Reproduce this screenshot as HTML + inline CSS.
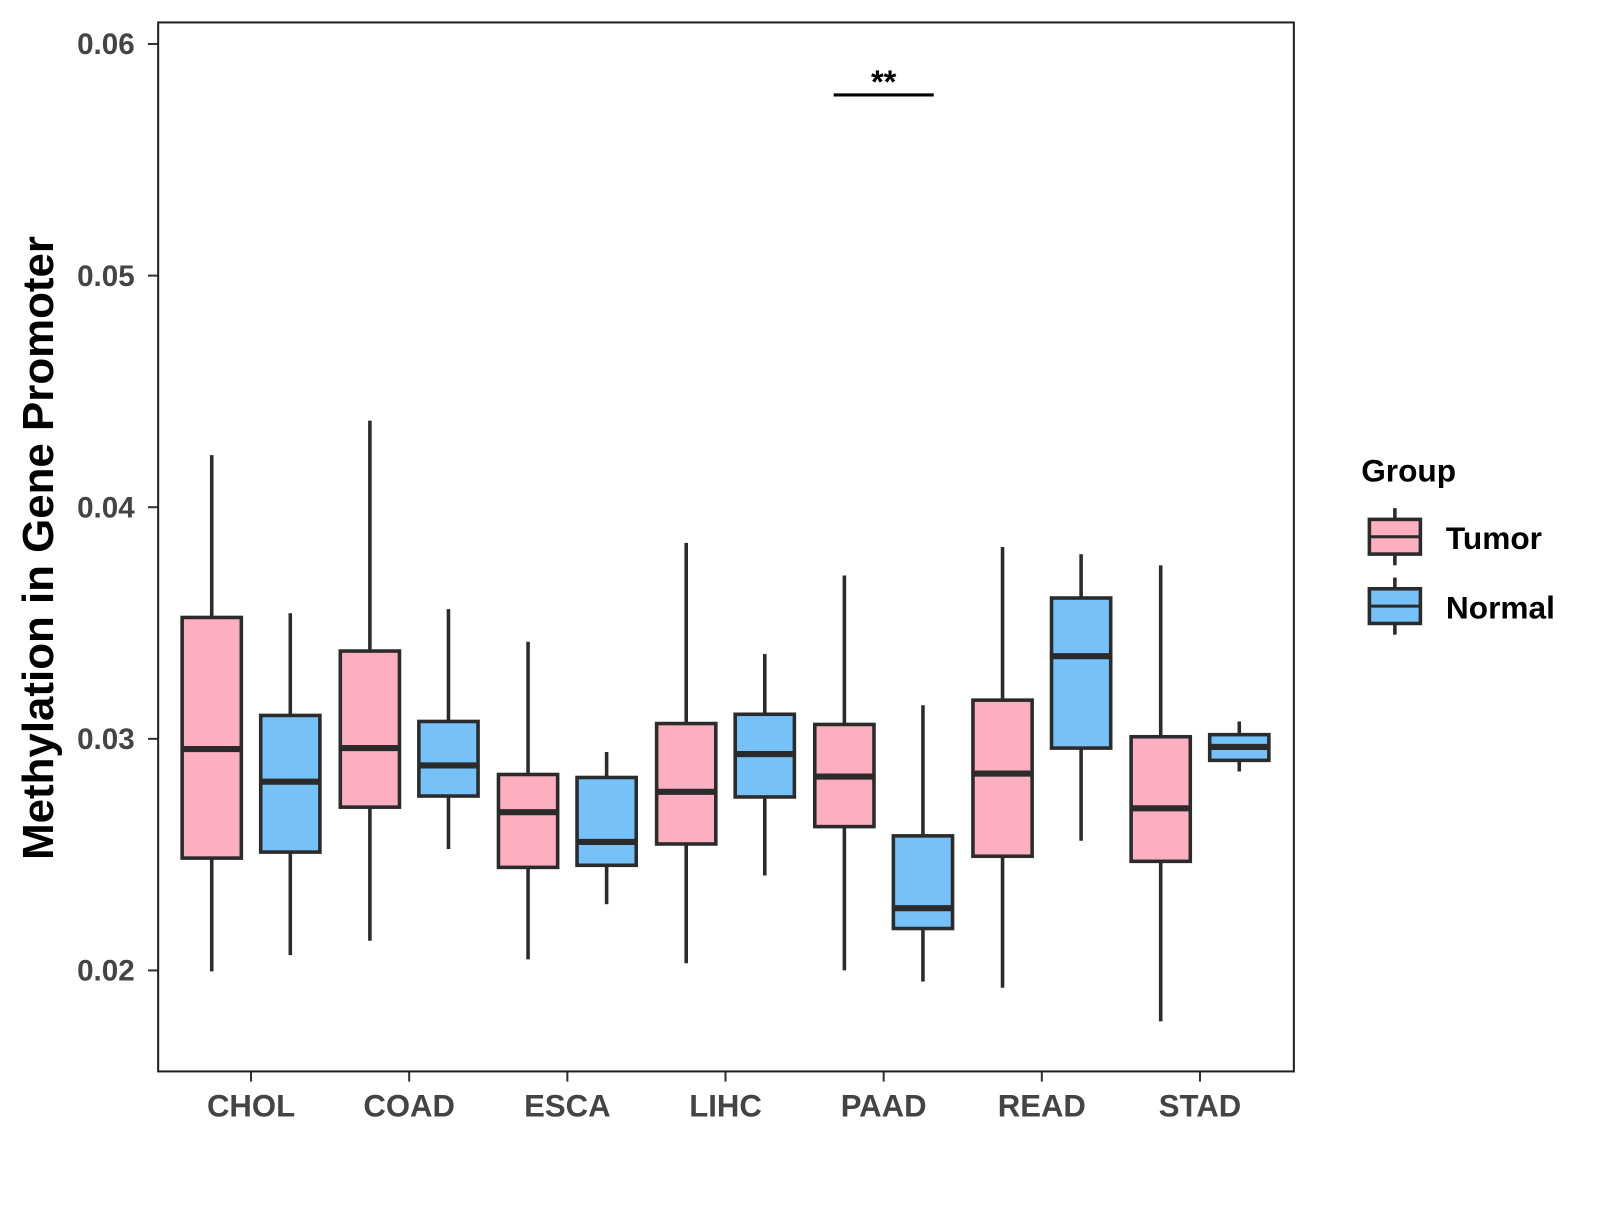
<!DOCTYPE html>
<html><head><meta charset="utf-8"><style>
body{margin:0;background:#fff;overflow:hidden;width:1600px;height:1200px;}
#wrap{position:absolute;left:0;top:0;width:1600px;height:1200px;transform:scale(1.0204);transform-origin:0 0;}
svg text{font-family:"Liberation Sans",Arial,sans-serif;font-weight:bold;}
</style></head><body>
<div id="wrap">
<svg id="chart" width="1600" height="1200" xmlns="http://www.w3.org/2000/svg" style="position:absolute;left:0;top:0">
<rect width="1600" height="1200" fill="#fff"/>
<g id="plot"></g>
</svg>
<svg style="position:absolute;left:0;top:0" width="1600" height="1200">
<text transform="translate(52,537) rotate(-90)" text-anchor="middle" font-size="43" fill="#000">Methylation in Gene Promoter</text>
<g>
<text x="1334" y="472" font-size="31" fill="#000">Group</text>
<g>
<line x1="1367" x2="1367" y1="498" y2="554" stroke="#2b2b2b" stroke-width="3.5"/>
<rect x="1342" y="509" width="50" height="34" fill="#FCAFC0" stroke="#2b2b2b" stroke-width="3.5"/>
<line x1="1342" x2="1392" y1="526" y2="526" stroke="#2b2b2b" stroke-width="3"/>
<text x="1417" y="538" font-size="31" fill="#000">Tumor</text>
</g>
<g>
<line x1="1367" x2="1367" y1="566" y2="622" stroke="#2b2b2b" stroke-width="3.5"/>
<rect x="1342" y="577" width="50" height="34" fill="#75C1F8" stroke="#2b2b2b" stroke-width="3.5"/>
<line x1="1342" x2="1392" y1="594" y2="594" stroke="#2b2b2b" stroke-width="3"/>
<text x="1417" y="606" font-size="31" fill="#000">Normal</text>
</g>
</g>
</svg>
</div>
<script>
const categories=["CHOL","COAD","ESCA","LIHC","PAAD","READ","STAD"];
// [whiskerLow, q1, median, q3, whiskerHigh]
const tumorStats=[
[0.01996,0.02485,0.02956,0.03524,0.04225],
[0.02128,0.02705,0.0296,0.03379,0.04374],
[0.02048,0.02445,0.02683,0.02846,0.03419],
[0.02031,0.02546,0.02771,0.03066,0.03846],
[0.0200,0.02621,0.02837,0.03062,0.03705],
[0.01925,0.02493,0.0285,0.03167,0.03828],
[0.0178,0.02471,0.027,0.03009,0.03749]];
const normalStats=[
[0.02066,0.02511,0.02815,0.03101,0.03542],
[0.02524,0.02753,0.02885,0.03075,0.0356],
[0.02286,0.02454,0.02555,0.02833,0.02943],
[0.0241,0.02749,0.02934,0.03106,0.03366],
[0.01952,0.02181,0.02269,0.02581,0.03145],
[0.0256,0.0296,0.03357,0.03608,0.03797],
[0.02859,0.02907,0.02965,0.03018,0.03075]];
const yTicks=[0.02,0.03,0.04,0.05,0.06];
const yTickLabels=["0.02","0.03","0.04","0.05","0.06"];
const sigCategoryIndex=4; const sigLabel="**"; const sigValue=0.0578;

const L=155,R=1268,T=22,B=1050;
const yMin=0.01564,yMax=0.06093;
const y=v=>B-(v-yMin)/(yMax-yMin)*(B-T);
const x=i=>246+i*155;
const NS="http://www.w3.org/2000/svg";
const g=document.getElementById('plot');
function el(tag,attrs,parent){const e=document.createElementNS(NS,tag);for(const k in attrs)e.setAttribute(k,attrs[k]);(parent||g).appendChild(e);return e;}

yTicks.forEach((t,i)=>{
 el('line',{x1:L-10,x2:L,y1:y(t),y2:y(t),stroke:'#333','stroke-width':2});
 const tx=el('text',{x:L-23,y:y(t)+10,'text-anchor':'end','font-size':29,fill:'#444'});
 tx.textContent=yTickLabels[i];
 
 
});
categories.forEach((c,i)=>{
 el('line',{x1:x(i),x2:x(i),y1:B,y2:B+10,stroke:'#333','stroke-width':2});
 const tx=el('text',{x:x(i),y:1094,'text-anchor':'middle','font-size':30.5,fill:'#444'});
 tx.textContent=c;
 
 
});

function box(cx,s,fill,name){
 const grp=el('g',{});
 
 
 const w=58;
 el('line',{x1:cx,x2:cx,y1:y(s[0]),y2:y(s[1]),stroke:'#2b2b2b','stroke-width':3.5},grp);
 el('line',{x1:cx,x2:cx,y1:y(s[3]),y2:y(s[4]),stroke:'#2b2b2b','stroke-width':3.5},grp);
 el('rect',{x:cx-w/2,y:y(s[3]),width:w,height:y(s[1])-y(s[3]),fill:fill,stroke:'#2b2b2b','stroke-width':3.5},grp);
 el('line',{x1:cx-w/2,x2:cx+w/2,y1:y(s[2]),y2:y(s[2]),stroke:'#2b2b2b','stroke-width':6},grp);
}
categories.forEach((c,i)=>{
 box(x(i)-38.5,tumorStats[i],'#FCAFC0','box-tumor-'+c.toLowerCase());
 box(x(i)+38.5,normalStats[i],'#75C1F8','box-normal-'+c.toLowerCase());
});

const sx=x(sigCategoryIndex);
const sl=el('line',{x1:sx-49,x2:sx+49,y1:y(sigValue),y2:y(sigValue),stroke:'#000','stroke-width':3});


const st=el('text',{x:sx,y:y(sigValue)-2,'text-anchor':'middle','font-size':32,fill:'#000'});
st.textContent=sigLabel;



el('rect',{x:L,y:T,width:R-L,height:B-T,fill:'none',stroke:'#222','stroke-width':2});
</script>
</body></html>
